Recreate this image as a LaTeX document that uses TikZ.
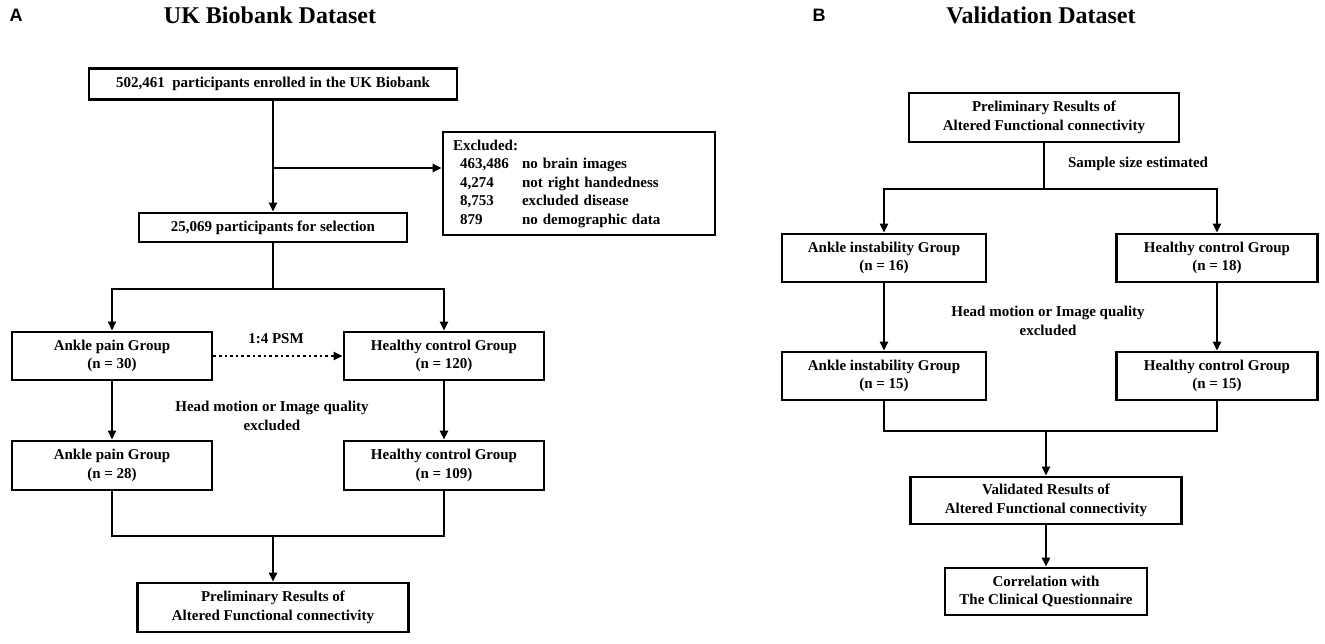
\documentclass[tikz,border=0pt]{standalone}
\usepackage{fontspec}
\setmainfont{Liberation Serif}
\newfontfamily\lettre{Liberation Sans}
\usetikzlibrary{arrows.meta}
\newcommand*\exclu[2]{\hspace*{7pt}\makebox[62pt][l]{#1}#2}
\tikzset{
  boite/.style={draw, line width=2.6pt, align=center, inner sep=0pt,
    font=\fontsize{15}{18.5}\selectfont\bfseries},
  fleche/.style={line width=2.2pt, -{Triangle[length=9pt,width=8pt]}},
  trait/.style={line width=2.2pt},
  texte/.style={align=center, inner sep=0pt, font=\fontsize{15}{18.5}\selectfont\bfseries},
  titre/.style={inner sep=0pt, font=\fontsize{24}{28}\selectfont\bfseries},
  lettrepanneau/.style={inner sep=0pt, font=\fontsize{18}{20}\lettre\bfseries},
}

\begin{document}
\begin{tikzpicture}[x=1pt, y=-1pt]
    \useasboundingbox (0,0) rectangle (1325,643);

    % Titres
    \node[lettrepanneau] (lettreA) at (16,15) {A};
    \node[titre, anchor=base] (titreA) at (270,23) {UK Biobank Dataset};
    \node[lettrepanneau] (lettreB) at (819,15) {B};
    \node[titre, anchor=base] (titreB) at (1041,23) {Validation Dataset};

    % Panneau A : UK Biobank
    \node[boite, minimum width=368, minimum height=31] (enrol) at (273,84)
        {502,461\enspace participants enrolled in the UK Biobank};
    \node[boite, align=left, text width=252pt, inner xsep=10pt, minimum height=103] (exclA) at (579,183.5)
        {Excluded:\\ \exclu{463,486}{no brain images}\\ \exclu{4,274}{not right handedness}\\
         \exclu{8,753}{excluded disease}\\ \exclu{879}{no demographic data}};
    \node[boite, minimum width=268, minimum height=29] (select) at (273,227.5)
        {25,069 participants for selection};
    \node[boite, minimum width=200, minimum height=48] (douleurA) at (112,356)
        {Ankle pain Group\\(n = 30)};
    \node[boite, minimum width=200, minimum height=48] (temoinA) at (444,356)
        {Healthy control Group\\(n = 120)};
    \node[boite, minimum width=200, minimum height=49] (douleurB) at (112,465.5)
        {Ankle pain Group\\(n = 28)};
    \node[boite, minimum width=200, minimum height=49] (temoinB) at (444,465.5)
        {Healthy control Group\\(n = 109)};
    \node[boite, minimum width=271, minimum height=49] (prelimA) at (273,607.5)
        {Preliminary Results of\\Altered Functional connectivity};
    \node[texte, anchor=base] (psm) at (276,343) {1:4 PSM};
    \node[texte] (mouvA) at (272,416) {Head motion or Image quality\\excluded};

    \coordinate (jonctionEx) at (273,168);
    \coordinate (partageA) at (273,289);
    \coordinate (fusionA) at (273,536);
    \draw[fleche] (enrol) -- (select);
    \draw[fleche] (jonctionEx) -- (jonctionEx -| exclA.west);
    \draw[trait] (select) -- (partageA);
    \draw[fleche] (partageA) -| (douleurA);
    \draw[fleche] (partageA) -| (temoinA);
    \draw[line width=2.6pt, dash pattern=on 2.6pt off 3pt, -{Triangle[length=9pt,width=8pt]}] (douleurA) -- (temoinA);
    \draw[fleche] (douleurA) -- (douleurB);
    \draw[fleche] (temoinA) -- (temoinB);
    \draw[trait] (douleurB) |- (fusionA);
    \draw[trait] (temoinB) |- (fusionA);
    \draw[fleche] (fusionA) -- (prelimA);

    % Panneau B : validation
    \node[boite, minimum width=270, minimum height=49] (prelimB) at (1044,117.5)
        {Preliminary Results of\\Altered Functional connectivity};
    \node[texte, anchor=base] (taille) at (1138,167) {Sample size estimated};
    \node[boite, minimum width=204, minimum height=48] (instabA) at (884,258)
        {Ankle instability Group\\(n = 16)};
    \node[boite, minimum width=201, minimum height=48] (temoinC) at (1217,258)
        {Healthy control Group\\(n = 18)};
    \node[texte] (mouvB) at (1048,321) {Head motion or Image quality\\excluded};
    \node[boite, minimum width=204, minimum height=48] (instabB) at (884,376)
        {Ankle instability Group\\(n = 15)};
    \node[boite, minimum width=201, minimum height=48] (temoinD) at (1217,376)
        {Healthy control Group\\(n = 15)};
    \node[boite, minimum width=271, minimum height=47] (valide) at (1046,500.5)
        {Validated Results of\\Altered Functional connectivity};
    \node[boite, minimum width=202, minimum height=47] (correl) at (1046,591.5)
        {Correlation with\\The Clinical Questionnaire};

    \coordinate (partageB) at (1044,189);
    \coordinate (fusionB) at (1046,431);
    \draw[trait] (prelimB) -- (prelimB |- partageB);
    \draw[fleche] (partageB) -| (instabA);
    \draw[fleche] (partageB) -| (temoinC);
    \draw[fleche] (instabA) -- (instabB);
    \draw[fleche] (temoinC) -- (temoinD);
    \draw[trait] (instabB) |- (fusionB);
    \draw[trait] (temoinD) |- (fusionB);
    \draw[fleche] (fusionB) -- (valide);
    \draw[fleche] (valide) -- (correl);
\end{tikzpicture}
\end{document}
